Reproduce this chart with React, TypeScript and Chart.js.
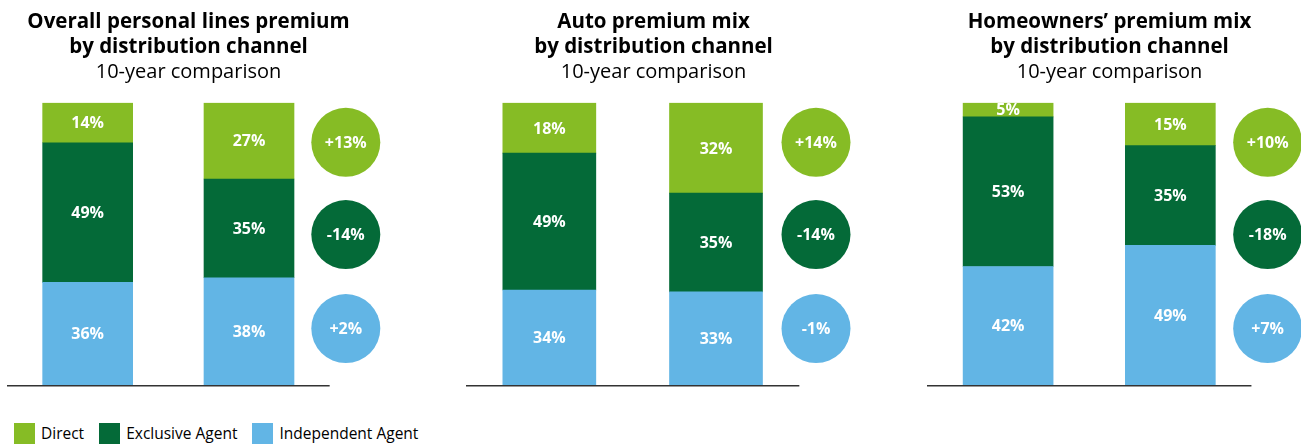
import React, { useEffect, useRef } from "react";
import { Chart, registerables } from "chart.js";

Chart.register(...registerables);

// ---------- data ----------
const seriesNames = ["Direct", "Exclusive Agent", "Independent Agent"];
const seriesColors = ["#86BC25", "#046A38", "#62B5E5"];
const periods = ["10 years ago", "Today"];

const overallDirect = [14, 27];
const overallExclusive = [49, 35];
const overallIndependent = [36, 38];

const autoDirect = [18, 32];
const autoExclusive = [49, 35];
const autoIndependent = [34, 33];

const homeDirect = [5, 15];
const homeExclusive = [53, 35];
const homeIndependent = [42, 49];

const overallTitle = ["Overall personal lines premium", "by distribution channel"];
const autoTitle = ["Auto premium mix", "by distribution channel"];
const homeTitle = ["Homeowners\u2019 premium mix", "by distribution channel"];
const subtitleText = "10-year comparison";

// ---------- styling / layout ----------
const FONT = '"Open Sans", "DejaVu Sans", sans-serif';
const X_MIN = -0.5;
const X_MAX = 1.75;
const CIRCLE_X = 1.6;
const CIRCLE_LEVELS = [86, 53.3, 20]; // Direct, Exclusive, Independent (y units)
const CIRCLE_R = 34.5;
const PAD_RIGHT = 30;
const CANVAS_H = 392;

type PanelProps = {
  left: number;
  unit: number;
  title: string[];
  direct: number[];
  exclusive: number[];
  independent: number[];
};

const decorPlugin = {
  id: "panelDecor",
  afterDatasetsDraw(chart: any) {
    const { ctx, chartArea } = chart;
    const xs = chart.scales.x;
    const ys = chart.scales.y;
    ctx.save();
    // baseline
    ctx.strokeStyle = "#333333";
    ctx.lineWidth = 1.6;
    ctx.beginPath();
    const by = chartArea.bottom + 0.8;
    ctx.moveTo(xs.getPixelForValue(-0.5), by);
    ctx.lineTo(xs.getPixelForValue(1.5), by);
    ctx.stroke();

    // value labels in bars
    ctx.font = `bold 16px ${FONT}`;
    ctx.textAlign = "center";
    ctx.textBaseline = "middle";
    ctx.fillStyle = "#ffffff";
    chart.data.datasets.forEach((ds: any, di: number) => {
      const meta = chart.getDatasetMeta(di);
      meta.data.forEach((bar: any, i: number) => {
        const p = bar.getProps(["x", "y", "base"], true);
        ctx.fillText(ds.rawValues[i] + "%", p.x, (p.y + p.base) / 2 + 1);
      });
    });

    // change circles
    const cx = xs.getPixelForValue(CIRCLE_X);
    chart.data.datasets.forEach((ds: any) => {
      const raw = ds.rawValues;
      const d = raw[1] - raw[0];
      const cy = ys.getPixelForValue(ds.circleLevel);
      ctx.fillStyle = ds.backgroundColor;
      ctx.beginPath();
      ctx.arc(cx, cy, CIRCLE_R, 0, Math.PI * 2);
      ctx.fill();
      ctx.fillStyle = "#ffffff";
      ctx.fillText((d > 0 ? "+" : "") + d + "%", cx, cy + 1);
    });
    ctx.restore();
  },
};

function normalize(values: number[][], i: number) {
  const total = values.reduce((s, v) => s + v[i], 0);
  return values.map((v) => (v[i] / total) * 100);
}

function Panel({ left, unit, title, direct, exclusive, independent }: PanelProps) {
  const ref = useRef<HTMLCanvasElement>(null);
  const area = Math.round(unit * (X_MAX - X_MIN));
  const width = area + PAD_RIGHT;

  useEffect(() => {
    if (!ref.current) return;
    const stackOrder = [independent, exclusive, direct];
    const colorOrder = [seriesColors[2], seriesColors[1], seriesColors[0]];
    const nameOrder = [seriesNames[2], seriesNames[1], seriesNames[0]];
    const levelOrder = [CIRCLE_LEVELS[2], CIRCLE_LEVELS[1], CIRCLE_LEVELS[0]];
    const norm0 = normalize(stackOrder, 0);
    const norm1 = normalize(stackOrder, 1);
    const datasets = stackOrder.map((vals, k) => ({
      label: nameOrder[k],
      data: [
        { x: 0, y: norm0[k] },
        { x: 1, y: norm1[k] },
      ],
      rawValues: vals,
      circleLevel: levelOrder[k],
      backgroundColor: colorOrder[k],
      borderWidth: 0,
      barThickness: Math.round((unit * 90) / 162),
    }));
    const chart = new Chart(ref.current, {
      type: "bar",
      data: { labels: periods, datasets } as any,
      options: {
        responsive: false,
        animation: false,
        layout: { padding: { left: 0, right: PAD_RIGHT, top: 0, bottom: 7 } },
        scales: {
          x: { type: "linear", min: X_MIN, max: X_MAX, offset: false, stacked: true, display: false },
          y: { min: 0, max: 100, stacked: true, display: false },
        },
        plugins: {
          legend: { display: false },
          tooltip: { enabled: false },
          title: {
            display: true,
            text: title,
            color: "#000000",
            font: { family: FONT, size: 20.5, weight: "bold", lineHeight: 1.2 },
            padding: { top: 10, bottom: 0 },
          },
          subtitle: {
            display: true,
            text: subtitleText,
            color: "#000000",
            font: { family: FONT, size: 20, weight: "normal", lineHeight: 1.23 },
            padding: { top: 1, bottom: 18 },
          },
        },
      } as any,
      plugins: [decorPlugin],
    });
    return () => chart.destroy();
  }, []);

  return (
    <canvas
      ref={ref}
      width={width}
      height={CANVAS_H}
      style={{ position: "absolute", left, top: 0, width, height: CANVAS_H, display: "block" }}
    />
  );
}

export default function App() {
  return (
    <div
      style={{
        position: "absolute",
        left: 0,
        top: 0,
        width: 1301,
        height: 444,
        background: "#ffffff",
        overflow: "hidden",
        fontFamily: FONT,
      }}
    >
      <Panel left={7} unit={161.5} title={overallTitle} direct={overallDirect} exclusive={overallExclusive} independent={overallIndependent} />
      <Panel left={466} unit={166.5} title={autoTitle} direct={autoDirect} exclusive={autoExclusive} independent={autoIndependent} />
      <Panel left={927} unit={162} title={homeTitle} direct={homeDirect} exclusive={homeExclusive} independent={homeIndependent} />
      <div
        style={{
          position: "absolute",
          left: 14,
          top: 423,
          display: "flex",
          alignItems: "center",
          fontSize: 15.5,
          lineHeight: "21px",
          color: "#000000",
          whiteSpace: "nowrap",
        }}
      >
        {seriesNames.map((name, i) => (
          <div key={name} style={{ display: "flex", alignItems: "center", marginRight: 15 }}>
            <span style={{ display: "inline-block", width: 21, height: 21, background: seriesColors[i], marginRight: 6 }} />
            <span>{name}</span>
          </div>
        ))}
      </div>
    </div>
  );
}
